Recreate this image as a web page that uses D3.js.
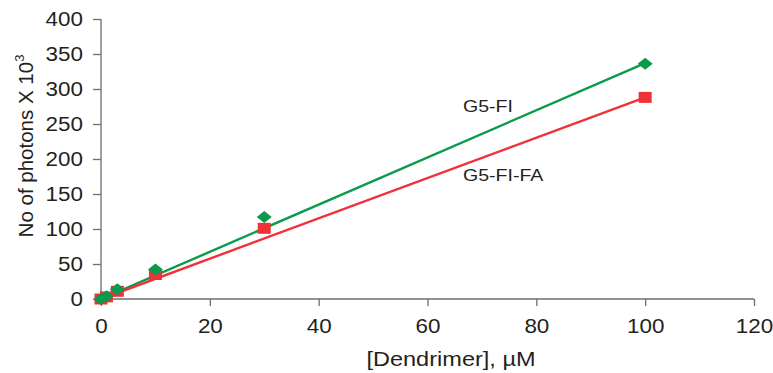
<!DOCTYPE html>
<html>
<head>
<meta charset="utf-8">
<script src="https://cdn.jsdelivr.net/npm/d3@7"></script>
<style>
    body { margin: 0; background: #fff; }
    text { font-family: "Liberation Sans", Arial, sans-serif; fill: #231f20; }
    .axis path, .axis line { stroke: #6d6e70; stroke-width: 1.3; }
</style>
</head>
<body>
<div id="chart"></div>
<script>
// data
const concG5FI = [0, 1, 3, 10, 30, 100];
const photonsG5FI = [0, 4, 14, 42, 117, 336];
const concG5FIFA = [0, 1, 3, 10, 30, 100];
const photonsG5FIFA = [0, 3, 11, 35, 101, 288];
// fitted trend lines (end points)
const fitX = [0, 100];
const fitG5FI = [0, 337];
const fitG5FIFA = [0, 288];
const xTicks = [0, 20, 40, 60, 80, 100, 120];
const yTicks = [0, 50, 100, 150, 200, 250, 300, 350, 400];

const width = 773;
const height = 373;
const green = "#0a9b4a";
const red = "#ee3238";
const stretch = 1.15;  // horizontal text is drawn a bit wide in the source

const xScale = d3.scaleLinear().domain([0, 120]).range([101, 754]);
const yScale = d3.scaleLinear().domain([0, 400]).range([299, 19]);

const svg = d3.select("#chart")
    .append("svg")
    .attr("width", width)
    .attr("height", height);

// axes
const xAxis = svg.append("g")
    .attr("class", "axis")
    .attr("transform", "translate(0," + yScale(0) + ")")
    .call(d3.axisBottom(xScale).tickValues(xTicks).tickSize(7).tickSizeOuter(0).tickFormat(d3.format("d")));
xAxis.selectAll("text")
    .attr("y", 20)
    .attr("dy", "0.71em")
    .style("font-size", "19.5px")
    .attr("transform", "scale(" + stretch + ",1)");
xAxis.select(".domain").attr("d", "M" + xScale(0) + ",0H" + xScale(120));

const yAxis = svg.append("g")
    .attr("class", "axis")
    .attr("transform", "translate(" + xScale(0) + ",0)")
    .call(d3.axisLeft(yScale).tickValues(yTicks).tickSize(8).tickSizeOuter(0));
yAxis.selectAll("text")
    .attr("x", -18 / stretch)
    .style("font-size", "19.5px")
    .attr("transform", "scale(" + stretch + ",1)");
yAxis.select(".domain").attr("d", "M0," + yScale(400) + "V" + yScale(0));
svg.selectAll(".axis text").attr("fill", "#231f20").attr("font-family", null);

// trend lines
const line = d3.line()
    .x(d => xScale(d[0]))
    .y(d => yScale(d[1]));

svg.append("path")
    .datum(fitX.map((x, i) => [x, fitG5FI[i]]))
    .attr("d", line)
    .attr("fill", "none")
    .attr("stroke", green)
    .attr("stroke-width", 2.4);

svg.append("path")
    .datum(fitX.map((x, i) => [x, fitG5FIFA[i]]))
    .attr("d", line)
    .attr("fill", "none")
    .attr("stroke", red)
    .attr("stroke-width", 2.4);

// red squares
svg.selectAll(".sq")
    .data(concG5FIFA.map((x, i) => [x, photonsG5FIFA[i]]))
    .enter().append("rect")
    .attr("class", "sq")
    .attr("x", d => xScale(d[0]) - 6.5)
    .attr("y", d => yScale(d[1]) - 5.5)
    .attr("width", 13)
    .attr("height", 11)
    .attr("fill", red);

// green diamonds
const diamond = "M0,-6L7.5,0L0,6L-7.5,0Z";
svg.selectAll(".dm")
    .data(concG5FI.map((x, i) => [x, photonsG5FI[i]]))
    .enter().append("path")
    .attr("class", "dm")
    .attr("d", diamond)
    .attr("transform", d => "translate(" + xScale(d[0]) + "," + yScale(d[1]) + ")")
    .attr("fill", green);

// series labels
svg.append("text")
    .attr("transform", "translate(463,112) scale(" + stretch + ",1)")
    .style("font-size", "17px")
    .text("G5-FI");

svg.append("text")
    .attr("transform", "translate(463,181) scale(" + stretch + ",1)")
    .style("font-size", "17px")
    .text("G5-FI-FA");

// axis titles
svg.append("text")
    .attr("text-anchor", "middle")
    .attr("transform", "translate(451,366) scale(" + (stretch * 1.05) + ",1)")
    .style("font-size", "19.5px")
    .text("[Dendrimer], \u00b5M");

const ylab = svg.append("text")
    .attr("text-anchor", "middle")
    .attr("transform", "translate(33,146) rotate(-90)")
    .style("font-size", "20.5px");
ylab.append("tspan").text("No of photons X 10");
ylab.append("tspan")
    .attr("dy", "-0.7em")
    .style("font-size", "13px")
    .text("3");
</script>
</body>
</html>
